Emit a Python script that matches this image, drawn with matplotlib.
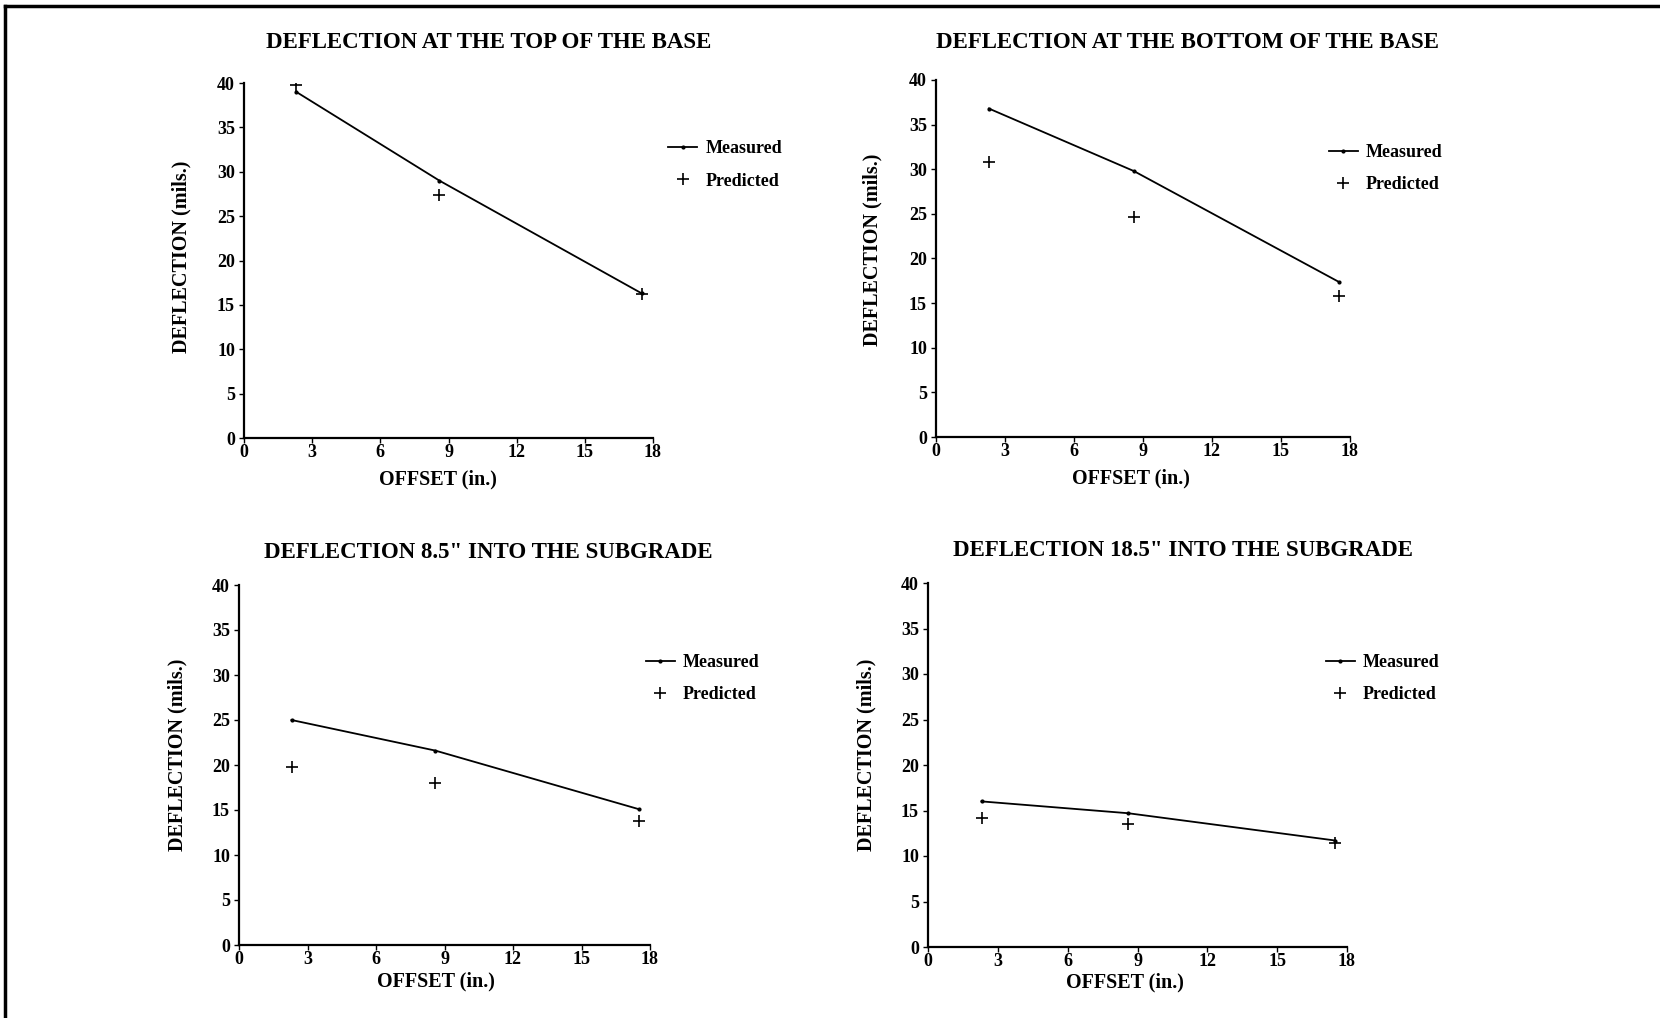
import matplotlib
matplotlib.use("Agg")
import matplotlib.pyplot as plt
from matplotlib.lines import Line2D

plt.rcParams['font.family'] = ['Liberation Serif', 'DejaVu Serif']
plt.rcParams['font.weight'] = 'bold'

# offsets (in.) and deflections (mils.)
offset = [2.3, 8.6, 17.5]

titles = ["DEFLECTION AT THE TOP OF THE BASE",
          "DEFLECTION AT THE BOTTOM OF THE BASE",
          "DEFLECTION 8.5\" INTO THE SUBGRADE",
          "DEFLECTION 18.5\" INTO THE SUBGRADE"]

measured_top = [39.0, 29.0, 16.3]
predicted_top = [39.8, 27.4, 16.2]
measured_bottom = [36.8, 29.8, 17.4]
predicted_bottom = [30.8, 24.7, 15.8]
measured_85 = [25.0, 21.6, 15.1]
predicted_85 = [19.8, 18.0, 13.8]
measured_185 = [16.0, 14.7, 11.7]
predicted_185 = [14.2, 13.5, 11.4]

measured = [measured_top, measured_bottom, measured_85, measured_185]
predicted = [predicted_top, predicted_bottom, predicted_85, predicted_185]

xticks = [0, 3, 6, 9, 12, 15, 18]
yticks = [0, 5, 10, 15, 20, 25, 30, 35, 40]

W, H = 1660, 1018
fig = plt.figure(figsize=(W / 100, H / 100), dpi=100)

# layout in pixels
boxes = [(244, 653, 83, 438), (936, 1350, 80, 437),
         (239, 650, 585, 945), (928, 1347, 583, 947)]   # left, right, top, bottom
title_pos = [(489, 42), (1187, 42), (488, 552), (1183, 550)]
ylabel_pos = [(181, 257), (872, 250), (177, 755), (866, 755)]
xlabel_pos = [(438, 479), (1131, 478), (436, 981), (1125, 982)]
legend_pos = [(1.037, 0.769), (0.949, 0.752), (0.99, 0.74), (0.95, 0.737)]

for i in range(4):
    l, r, t, b = boxes[i]
    ax = fig.add_axes([l / W, 1 - b / H, (r - l) / W, (b - t) / H])
    ax.plot(offset, measured[i], color="black", lw=1.3, marker=".", ms=4,
            label="Measured")
    ax.plot(offset, predicted[i], linestyle="none", color="black", marker="+",
            ms=8, mew=1.2, label="Predicted")
    ax.set_xlim(0, 18)
    ax.set_ylim(0, 40)
    ax.set_xticks(xticks)
    ax.set_yticks(yticks)
    ax.spines['top'].set_visible(False)
    ax.spines['right'].set_visible(False)
    ax.spines['left'].set_linewidth(1.6)
    ax.spines['bottom'].set_linewidth(1.6)
    ax.tick_params(direction="out", length=3.5, width=1, labelsize=13)
    ax.tick_params(axis="x", pad=0.8)
    ax.tick_params(axis="y", pad=3)
    ax.set_xlabel("OFFSET (in.)", fontsize=14.5, fontweight="bold", va="center")
    ax.set_ylabel("DEFLECTION (mils.)", fontsize=14.5, fontweight="bold", va="center")
    ax.xaxis.set_label_coords((xlabel_pos[i][0] - l) / (r - l),
                              (b - xlabel_pos[i][1]) / (b - t))
    ax.yaxis.set_label_coords((ylabel_pos[i][0] - l) / (r - l),
                              (b - ylabel_pos[i][1]) / (b - t))
    ax.legend(loc="center left", bbox_to_anchor=legend_pos[i], frameon=False,
              fontsize=13, handlelength=1.6, handletextpad=0.45,
              labelspacing=0.85, borderaxespad=0, borderpad=0)
    fig.text(title_pos[i][0] / W, 1 - title_pos[i][1] / H, titles[i],
             ha="center", va="center", fontsize=16.5, fontweight="bold")

# page frame (left and top edges)
fig.add_artist(Line2D([5 / W, 5 / W], [0, 1 - 6 / H], color="black", lw=2.5,
                      transform=fig.transFigure))
fig.add_artist(Line2D([5 / W, 1], [1 - 6 / H, 1 - 6 / H], color="black", lw=2.5,
                      transform=fig.transFigure))

fig.savefig("out.png", dpi=100)
